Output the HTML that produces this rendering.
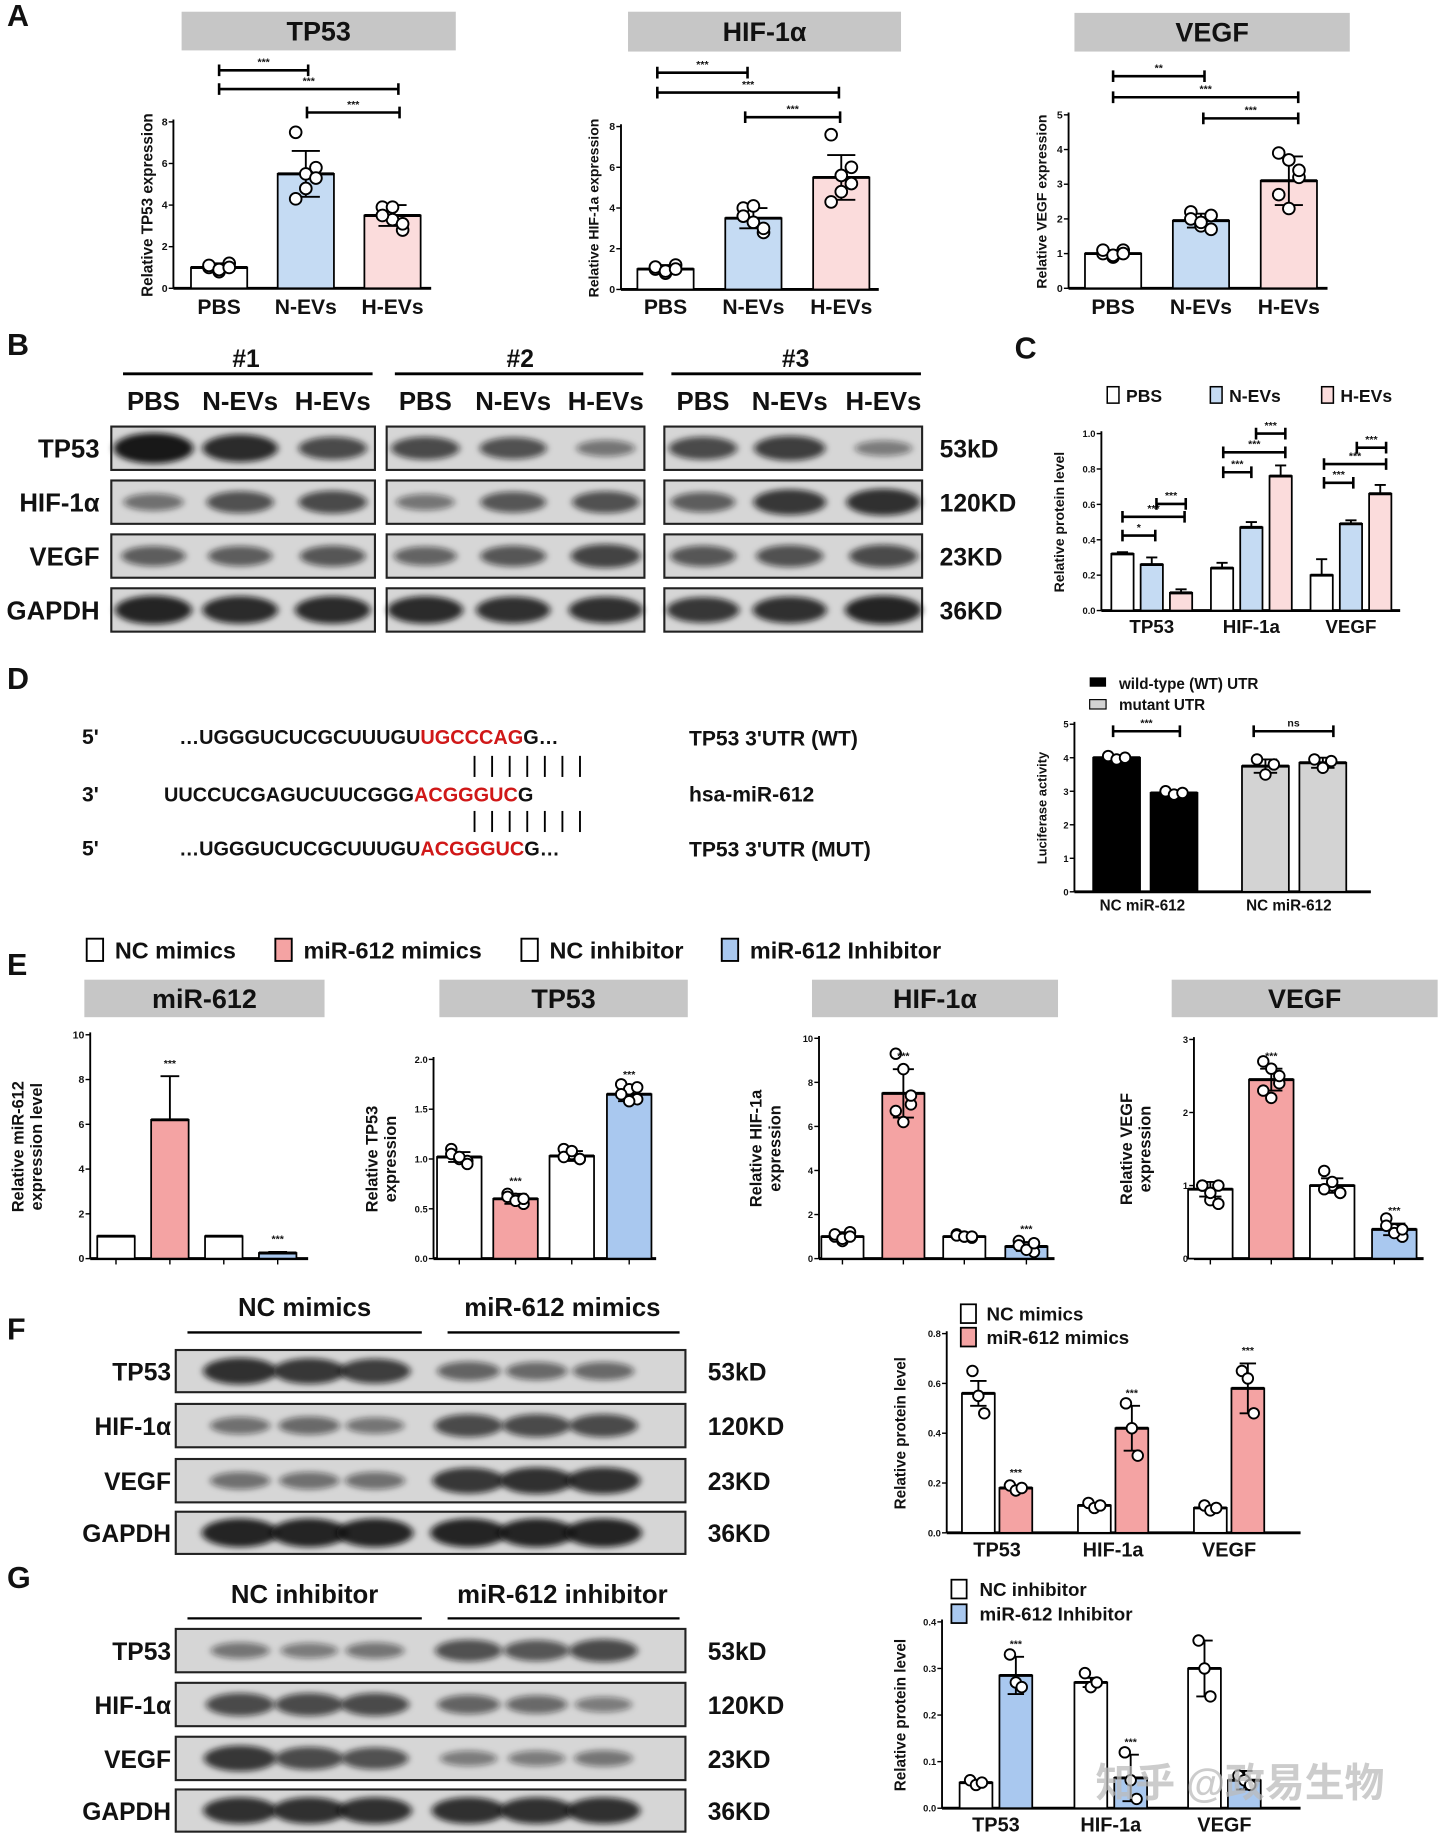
<!DOCTYPE html>
<html><head><meta charset="utf-8"><style>
html,body{margin:0;padding:0;background:#fff;}
svg{display:block;}
text{font-family:"Liberation Sans Narrow","Liberation Sans","Noto Sans CJK SC",sans-serif;font-weight:bold;fill:#111;}
</style></head><body>
<svg id="root" width="1440" height="1834" viewBox="0 0 1229 1565" preserveAspectRatio="none" xmlns="http://www.w3.org/2000/svg">
<defs>
<filter id="blur" x="-30%" y="-80%" width="160%" height="260%"><feGaussianBlur stdDeviation="3 2.5"/></filter>
</defs>
</svg>
<script>
// ===== Data =====
const groupsA = ["PBS","N-EVs","H-EVs"];
const tp53A = [1.0,5.5,3.5];   const tp53AErr=[0.2,1.1,0.5];
const tp53APts=[[1.0,0.8,1.2,1.1,0.9,1.0],[7.5,5.5,5.8,4.3,4.8,5.3],[3.9,3.3,2.8,3.5,3.9,3.1]];
const hifA = [1.0,3.5,5.5];    const hifAErr=[0.2,0.5,1.1];
const hifAPts=[[1.0,0.8,1.2,1.1,0.9,1.0],[4.0,3.3,2.8,3.6,4.1,3.0],[7.6,5.6,6.0,4.3,4.8,5.2]];
const vegfA = [1.0,1.95,3.1];  const vegfAErr=[0.1,0.2,0.7];
const vegfAPts=[[1.0,0.9,1.1,1.1,0.95,1.0],[2.2,1.8,1.7,2.0,1.9,2.1],[3.9,3.7,3.2,2.7,2.3,3.4]];
const ticksA8=[0,2,4,6,8]; const ticksA5=[0,1,2,3,4,5];

const groupsC=["TP53","HIF-1a","VEGF"];
const cPBS=[0.32,0.24,0.20]; const cPBSErr=[0.01,0.03,0.09];
const cN=[0.26,0.47,0.49];   const cNErr=[0.04,0.03,0.02];
const cH=[0.10,0.76,0.66];   const cHErr=[0.02,0.06,0.05];
const ticksC=[0,0.2,0.4,0.6,0.8,1.0];

const lucVals=[4.0,2.95,3.75,3.85]; const lucErr=[0.05,0.05,0.2,0.15];
const lucPts=[[4.05,3.95,4.0],[3.0,2.9,2.95],[3.95,3.5,3.8],[3.95,3.7,3.9]];
const ticksD=[0,1,2,3,4,5];

const eMir=[1.0,6.2,1.0,0.25]; const eMirErr=[0,1.95,0,0.05];
const eTp=[1.02,0.6,1.03,1.65]; const eTpErr=[0.05,0.05,0.05,0.07];
const eTpPts=[[1.1,1.0,0.98,1.05,1.02,0.95],[0.65,0.6,0.55,0.62,0.58,0.6],[1.1,1.05,1.0,1.02,1.08,1.0],[1.75,1.7,1.6,1.65,1.58,1.72]];
const eHif=[1.0,7.5,1.0,0.55]; const eHifErr=[0.2,1.1,0.1,0.2];
const eHifPts=[[1.0,0.8,1.2,1.1,0.9,1.0],[9.3,8.6,7.0,6.7,6.2,7.4],[1.1,1.0,0.95,1.05,1.0,1.0],[0.8,0.5,0.3,0.6,0.4,0.7]];
const eVegf=[0.95,2.45,1.0,0.4]; const eVegfErr=[0.1,0.15,0.1,0.08];
const eVegfPts=[[1.0,0.8,0.75,1.0,0.9,1.0],[2.7,2.6,2.4,2.3,2.2,2.5],[1.2,1.0,0.9,0.95,1.05,0.9],[0.55,0.4,0.3,0.45,0.35,0.4]];

const fNC=[0.56,0.11,0.10]; const fNCErr=[0.05,0.01,0.01];
const fMi=[0.18,0.42,0.58]; const fMiErr=[0.01,0.09,0.1];
const fNCPts=[[0.65,0.55,0.48],[0.12,0.1,0.11],[0.11,0.09,0.1]];
const fMiPts=[[0.19,0.17,0.18],[0.52,0.42,0.31],[0.65,0.62,0.48]];
const gNC=[0.055,0.27,0.30]; const gNCErr=[0.005,0.01,0.06];
const gIn=[0.285,0.065,0.06]; const gInErr=[0.04,0.05,0.02];
const gNCPts=[[0.06,0.05,0.055],[0.29,0.26,0.27],[0.36,0.3,0.24]];
const gInPts=[[0.33,0.27,0.26],[0.12,0.06,0.02],[0.07,0.06,0.05]];

// ===== helpers =====
const NS="http://www.w3.org/2000/svg";
const root=document.getElementById('root');
function mk(tag,attrs,parent){const e=document.createElementNS(NS,tag);for(const k in attrs)e.setAttribute(k,attrs[k]);(parent||root).appendChild(e);return e;}
function txt(x,y,s,size,opts,parent){const o=Object.assign({x:x,y:y,'font-size':size},opts||{});const t=mk('text',o,parent);t.textContent=s;return t;}
function g(name){const e=mk('g',{});return e;}

function panelLabel(s,x,y){const t=txt(x,y,s,26,{'font-family':'Liberation Sans'});}
function titleBox(s,x1,x2,y1,y2){const gg=g('title-'+s.toLowerCase());mk('rect',{x:x1,y:y1,width:x2-x1,height:y2-y1,fill:'#c6c6c6'},gg);txt((x1+x2)/2,(y1+y2)/2+8,s,23,{'text-anchor':'middle'},gg);}

function chart(o){
  const gg=g(o.name);
  const ys=v=>o.y0-v/o.max*(o.y0-o.yt);
  // axis
  const ax=mk('line',{x1:o.ax,y1:o.yt-2,x2:o.ax,y2:o.y0,stroke:'#000','stroke-width':1.6},gg);
  
  
  const bx=mk('line',{x1:o.ax,y1:o.y0,x2:o.xend,y2:o.y0,stroke:'#000','stroke-width':2.5},gg);
  
  
  o.ticks.forEach((t,i)=>{
    mk('line',{x1:o.ax-4,x2:o.ax,y1:ys(t),y2:ys(t),stroke:'#000','stroke-width':1.2},gg);
    const lab=txt(o.ax-5,ys(t)+3,o.tickLabels?o.tickLabels[i]:String(t),o.tickSize||9,{'text-anchor':'end'},gg);
    
    
  });
  if(o.ytitle){o.ytitle.forEach((line,i)=>{const tx=o.ytx+i*(o.ytSize+2);const t=txt(tx,(o.yt+o.y0)/2,line,o.ytSize,{'text-anchor':'middle',transform:`rotate(-90 ${tx} ${(o.yt+o.y0)/2})`,'font-family':'Liberation Sans'},gg);});}
  o.series.forEach((s,si)=>{
    s.vals.forEach((v,i)=>{
      const cx=o.centers[i]+(s.off||0);
      const r=mk('rect',{x:cx-o.bw/2,y:ys(v),width:o.bw,height:o.y0-ys(v),fill:s.fills[i],stroke:'#000','stroke-width':1.5},gg);
      
      
      const e=s.errs?s.errs[i]:0;
      if(e>0){
        const eb=mk('path',{d:`M${cx} ${ys(v-(s.oneSided?0:e))}V${ys(v+e)}M${cx-o.bw*0.25} ${ys(v+e)}H${cx+o.bw*0.25}`+(s.oneSided?'':`M${cx-o.bw*0.25} ${ys(v-e)}H${cx+o.bw*0.25}`),stroke:'#000','stroke-width':1.6,fill:'none'},gg);
        
        
      }
      mk('line',{x1:cx-o.bw/2,x2:cx+o.bw/2,y1:ys(v),y2:ys(v),stroke:'#000','stroke-width':2.5},gg);
      if(s.pts){s.pts[i].forEach((p,j)=>{
        const dx=((j%3)-1)*o.bw*0.18;
        const c=mk('circle',{cx:cx+dx,cy:ys(p),r:o.pr||5,fill:'#fff',stroke:'#000','stroke-width':1.6},gg);
        
        
      });}
      if(s.stars&&s.stars[i]){const st=txt(cx,ys(v+e)-8,s.stars[i],9,{'text-anchor':'middle'},gg);}
    });
  });
  if(o.xlabels){o.xlabels.forEach((l,i)=>{const t=txt(o.centers[i]+(o.xlOff||0),o.y0+o.xlDy,l,o.xlSize,{'text-anchor':'middle'},gg);});}
  if(o.xticks){o.centers.forEach(c=>{o.series.forEach(s=>{mk('line',{x1:c+(s.off||0),x2:c+(s.off||0),y1:o.y0,y2:o.y0+5,stroke:'#000','stroke-width':1.2},gg);});});}
  (o.brackets||[]).forEach(b=>{
    const br=mk('path',{d:`M${b[0]} ${b[2]-5}V${b[2]+5}M${b[0]} ${b[2]}H${b[1]}M${b[1]} ${b[2]-5}V${b[2]+5}`,stroke:'#000','stroke-width':2.2,fill:'none'},gg);
    
    
    txt((b[0]+b[1])/2,b[2]-4,b[3],b[4]||9,{'text-anchor':'middle'},gg);
  });
  return gg;
}

function blotRow(name,x,y,w,h,lanes,ints,parent){
  const gg=mk('g',{},parent);
  mk('rect',{x:x,y:y,width:w,height:h,fill:'#d6d6d6',stroke:'#222','stroke-width':1.8},gg);
  lanes.forEach((cx,i)=>{const a=ints[i];
    mk('ellipse',{cx:cx,cy:y+h/2,rx:22+a*12,ry:5+a*8,fill:'#111','fill-opacity':0.35+a*0.6,filter:'url(#blur)'},gg);});
}

// ===== Panel A =====
panelLabel('A',6,22);
titleBox('TP53',155,389,10,43);titleBox('HIF-1α',536,769,10,44);titleBox('VEGF',917,1152,11,44);
chart({name:'chart-a-tp53',ax:148,y0:246,yt:104,max:8,ticks:ticksA8,centers:[187,261,335],bw:48,xend:368,
  ytitle:['Relative TP53 expression'],ytx:130,ytSize:13,
  series:[{key:'tp53',vals:tp53A,errs:tp53AErr,pts:tp53APts,fills:['#fff','#c5dbf3','#fbdcdc']}],
  xlabels:groupsA,xlDy:22,xlSize:18,brackets:[[187,263,60,'***'],[187,340,76,'***'],[262,341,96,'***']]});
chart({name:'chart-a-hif',ax:530,y0:247,yt:108,max:8,ticks:ticksA8,centers:[568,643,718],bw:48,xend:750,
  ytitle:['Relative HIF-1a  expression'],ytx:511,ytSize:12,
  series:[{key:'hif',vals:hifA,errs:hifAErr,pts:hifAPts,fills:['#fff','#c5dbf3','#fbdcdc']}],
  xlabels:groupsA,xlDy:21,xlSize:18,brackets:[[561,638,62,'***'],[561,716,79,'***'],[636,717,100,'***']]});
chart({name:'chart-a-vegf',ax:912,y0:246,yt:98,max:5,ticks:ticksA5,centers:[950,1025,1100],bw:48,xend:1133,
  ytitle:['Relative VEGF expression'],ytx:893,ytSize:12,
  series:[{key:'vegf',vals:vegfA,errs:vegfAErr,pts:vegfAPts,fills:['#fff','#c5dbf3','#fbdcdc']}],
  xlabels:groupsA,xlDy:22,xlSize:18,brackets:[[950,1028,65,'**'],[950,1108,83,'***'],[1027,1108,101,'***']]});

// ===== Panel B =====
panelLabel('B',6,303);
(function(){
  const gb=g('western-blot-b');
  [[210,105,318,'#1'],[444,337,549,'#2'],[679,573,786,'#3']].forEach(a=>{txt(a[0],313,a[3],21,{'text-anchor':'middle'},gb);mk('line',{x1:a[1],x2:a[2],y1:319,y2:319,stroke:'#000','stroke-width':2.5},gb);});
  const labs=[[131,205,284],[363,438,517],[600,674,754]];
  labs.forEach(L=>L.forEach((x,i)=>txt(x,350,['PBS','N-EVs','H-EVs'][i],22,{'text-anchor':'middle'},gb)));
  const boxes=[[95,225],[330,220],[567,220]];
  const rows=[['TP53',364,37,'53kD'],['HIF-1α',410,37,'120KD'],['VEGF',456,37,'23KD'],['GAPDH',502,37,'36KD']];
  const ints={TP53:[[1,.85,.6],[.6,.55,.25],[.6,.7,.2]],'HIF-1α':[[.3,.55,.6],[.25,.5,.55],[.45,.75,.8]],VEGF:[[.45,.45,.5],[.4,.5,.65],[.5,.55,.6]],GAPDH:[[.9,.85,.85],[.85,.8,.8],[.75,.8,.9]]};
  rows.forEach(r=>{
    txt(85,r[1]+r[2]/2+8,r[0],22,{'text-anchor':'end'},gb);
    txt(802,r[1]+r[2]/2+8,r[3],21,{},gb);
    boxes.forEach((b,bi)=>blotRow('blot-'+r[0].toLowerCase()+'-'+(bi+1),b[0],r[1],b[1],r[2],labs[bi],ints[r[0]][bi],gb));
  });
})();

// ===== Panel C =====
panelLabel('C',866,306);
(function(){const gl=g('legend-c');[[945,'PBS','#fff'],[1033,'N-EVs','#c5dbf3'],[1128,'H-EVs','#fbdcdc']].forEach(l=>{mk('rect',{x:l[0],y:330,width:10,height:14,fill:l[2],stroke:'#000','stroke-width':1.3},gl);txt(l[0]+16,343,l[1],15,{},gl);});})();
chart({name:'chart-c-protein',ax:940,y0:521,yt:370,max:1.0,ticks:ticksC,tickLabels:['0.0','0.2','0.4','0.6','0.8','1.0'],tickSize:8,
  centers:[983,1068,1153],bw:19,xend:1195,ytitle:['Relative protein level'],ytx:908,ytSize:12,
  series:[{key:'pbs',off:-25,vals:cPBS,errs:cPBSErr,fills:['#fff','#fff','#fff'],oneSided:true},
          {key:'nevs',off:0,vals:cN,errs:cNErr,fills:['#c5dbf3','#c5dbf3','#c5dbf3'],oneSided:true},
          {key:'hevs',off:25,vals:cH,errs:cHErr,fills:['#fbdcdc','#fbdcdc','#fbdcdc'],oneSided:true}],
  xlabels:groupsC,xlDy:19,xlSize:16,
  brackets:[[958,986,457,'*'],[958,1011,441,'***'],[987,1012,430,'***'],[1044,1068,403,'***'],[1044,1097,386,'***'],[1072,1097,370,'***'],[1130,1155,412,'***'],[1130,1183,396,'***'],[1158,1183,382,'***']]});

// ===== Panel D =====
panelLabel('D',6,588);
(function(){const gs=g('sequence-alignment');
  const fs={'font-family':'Liberation Sans'};
  txt(70,635,"5'",18,fs,gs);txt(70,684,"3'",18,fs,gs);txt(70,730,"5'",18,fs,gs);
  let t=txt(153,635,'',17,fs,gs);t.innerHTML='…UGGGUCUCGCUUUGU<tspan fill="#d01818" style="fill:#d01818">UGCCCAG</tspan>G…';
  t=txt(140,684,'',17,fs,gs);t.innerHTML='UUCCUCGAGUCUUCGGG<tspan style="fill:#d01818">ACGGGUC</tspan>G';
  t=txt(153,730,'',17,fs,gs);t.innerHTML='…UGGGUCUCGCUUUGU<tspan style="fill:#d01818">ACGGGUC</tspan>G…';
  for(let i=0;i<7;i++){const x=405+i*15;mk('line',{x1:x,x2:x,y1:645,y2:663,stroke:'#000','stroke-width':1.6},gs);mk('line',{x1:x,x2:x,y1:692,y2:710,stroke:'#000','stroke-width':1.6},gs);}
  txt(588,636,"TP53  3'UTR  (WT)",18,fs,gs);txt(588,684,'hsa-miR-612',18,fs,gs);txt(588,731,"TP53  3'UTR  (MUT)",18,fs,gs);
})();
(function(){const gl=g('legend-d');mk('rect',{x:930,y:578,width:14,height:8,fill:'#000'},gl);txt(955,588,'wild-type (WT) UTR',13,{},gl);mk('rect',{x:930,y:597,width:14,height:8,fill:'#d3d3d3',stroke:'#000'},gl);txt(955,606,'mutant UTR',13,{},gl);})();
chart({name:'chart-d-luciferase',ax:917,y0:761,yt:618,max:5,ticks:ticksD,tickSize:8,centers:[953,1002,1080,1129],bw:40,xend:1170,
  ytitle:['Luciferase activity'],ytx:893,ytSize:11,
  series:[{key:'luc',vals:lucVals,errs:lucErr,pts:lucPts,fills:['#000','#000','#d3d3d3','#d3d3d3']}],pr:4.5,
  brackets:[[950,1007,624,'***'],[1070,1138,624,'ns']]});
txt(975,777,'NC miR-612',13,{'text-anchor':'middle'});txt(1100,777,'NC miR-612',13,{'text-anchor':'middle'});

// ===== Panel E =====
(function(){const gl=g('legend-e');[[74,'NC mimics','#fff'],[235,'miR-612 mimics','#f4a3a3'],[445,'NC inhibitor','#fff'],[616,'miR-612 Inhibitor','#a9c8ef']].forEach(l=>{mk('rect',{x:l[0],y:801,width:14,height:19,fill:l[2],stroke:'#000','stroke-width':1.6},gl);txt(l[0]+24,818,l[1],20,{'font-family':'Liberation Sans'},gl);});})();
panelLabel('E',6,832);
titleBox('miR-612',72,277,836,868);titleBox('TP53',375,587,836,868);titleBox('HIF-1α',693,903,836,868);titleBox('VEGF',1000,1227,836,868);
const eFills=['#fff','#f4a3a3','#fff','#a9c8ef'];
chart({name:'chart-e-mir612',ax:77,y0:1074,yt:883,max:10,ticks:[0,2,4,6,8,10],centers:[99,145,191,237],bw:32,xend:263,xticks:true,
  ytitle:['Relative miR-612','expression level'],ytx:20,ytSize:14,
  series:[{key:'mir',vals:eMir,errs:eMirErr,fills:eFills,oneSided:true,stars:['','***','','***']}]});
chart({name:'chart-e-tp53',ax:370,y0:1074,yt:904,max:2.0,ticks:[0,0.5,1,1.5,2],tickLabels:['0.0','0.5','1.0','1.5','2.0'],tickSize:8,centers:[392,440,488,537],bw:38,xend:560,xticks:true,
  ytitle:['Relative TP53','expression'],ytx:322,ytSize:14,pr:4.5,
  series:[{key:'tp',vals:eTp,errs:eTpErr,pts:eTpPts,fills:eFills,stars:['','***','','***']}]});
chart({name:'chart-e-hif',ax:699,y0:1074,yt:886,max:10,ticks:[0,2,4,6,8,10],tickSize:8,centers:[719,771,823,876],bw:36,xend:900,xticks:true,
  ytitle:['Relative HIF-1a','expression'],ytx:650,ytSize:14,pr:4.5,
  series:[{key:'hif',vals:eHif,errs:eHifErr,pts:eHifPts,fills:eFills,stars:['','***','','***']}]});
chart({name:'chart-e-vegf',ax:1019,y0:1074,yt:887,max:3,ticks:[0,1,2,3],tickSize:8,centers:[1033,1085,1137,1190],bw:38,xend:1215,xticks:true,
  ytitle:['Relative VEGF','expression'],ytx:966,ytSize:14,pr:4.5,
  series:[{key:'vegf',vals:eVegf,errs:eVegfErr,pts:eVegfPts,fills:eFills,stars:['','***','','***']}]});

// ===== Panels F / G blots =====
function blotFG(name,hdr1,hdr2,hy,ly,rows,ints){
  const gb=g(name);
  txt(260,hy,hdr1,22,{'text-anchor':'middle'},gb);txt(480,hy,hdr2,22,{'text-anchor':'middle'},gb);
  mk('line',{x1:160,x2:360,y1:ly,y2:ly,stroke:'#000','stroke-width':2},gb);mk('line',{x1:382,x2:580,y1:ly,y2:ly,stroke:'#000','stroke-width':2},gb);
  const lanes=[205,264,320,400,458,515];
  rows.forEach((r,i)=>{txt(146,r[1]+r[2]/2+8,r[0],21,{'text-anchor':'end'},gb);txt(604,r[1]+r[2]/2+8,r[3],21,{},gb);
    blotRow('blot-'+r[0].toLowerCase(),150,r[1],435,r[2],lanes,ints[i],gb);});
}
panelLabel('F',6,1143);
blotFG('western-blot-f','NC  mimics','miR-612  mimics',1123,1137,
  [['TP53',1152,36,'53kD'],['HIF-1α',1198,37,'120KD'],['VEGF',1245,37,'23KD'],['GAPDH',1290,36,'36KD']],
  [[.8,.75,.7,.4,.35,.35],[.3,.35,.25,.6,.6,.6],[.3,.3,.3,.75,.8,.8],[.9,.9,.9,.9,.9,.9]]);
panelLabel('G',6,1355);
blotFG('western-blot-g','NC  inhibitor','miR-612  inhibitor',1368,1381,
  [['TP53',1390,37,'53kD'],['HIF-1α',1436,37,'120KD'],['VEGF',1482,37,'23KD'],['GAPDH',1527,36,'36KD']],
  [[.25,.2,.25,.55,.5,.6],[.6,.6,.6,.4,.35,.2],[.75,.6,.55,.2,.2,.25],[.8,.8,.8,.8,.8,.8]]);

// ===== F / G charts =====
(function(){const gl=g('legend-f');mk('rect',{x:820,y:1113,width:13,height:16,fill:'#fff',stroke:'#000','stroke-width':1.5},gl);txt(842,1127,'NC mimics',16,{'font-family':'Liberation Sans'},gl);mk('rect',{x:820,y:1133,width:13,height:16,fill:'#f4a3a3',stroke:'#000','stroke-width':1.5},gl);txt(842,1147,'miR-612 mimics',16,{'font-family':'Liberation Sans'},gl);})();
chart({name:'chart-f-protein',ax:808,y0:1308,yt:1138,max:0.8,ticks:[0,0.2,0.4,0.6,0.8],tickLabels:['0.0','0.2','0.4','0.6','0.8'],tickSize:8,centers:[851,950,1049],bw:28,xend:1110,
  ytitle:['Relative protein level'],ytx:773,ytSize:13,pr:4.5,
  series:[{key:'nc',off:-16,vals:fNC,errs:fNCErr,pts:fNCPts,fills:['#fff','#fff','#fff']},
          {key:'mimic',off:16,vals:fMi,errs:fMiErr,pts:fMiPts,fills:['#f4a3a3','#f4a3a3','#f4a3a3'],stars:['***','***','***']}],
  xlabels:groupsC,xlDy:20,xlSize:17});
(function(){const gl=g('legend-g');mk('rect',{x:812,y:1348,width:13,height:16,fill:'#fff',stroke:'#000','stroke-width':1.5},gl);txt(836,1362,'NC inhibitor',16,{'font-family':'Liberation Sans'},gl);mk('rect',{x:812,y:1369,width:13,height:16,fill:'#a9c8ef',stroke:'#000','stroke-width':1.5},gl);txt(836,1383,'miR-612 Inhibitor',16,{'font-family':'Liberation Sans'},gl);})();
chart({name:'chart-g-protein',ax:804,y0:1543,yt:1384,max:0.4,ticks:[0,0.1,0.2,0.3,0.4],tickLabels:['0.0','0.1','0.2','0.3','0.4'],tickSize:8,centers:[850,948,1045],bw:28,xend:1110,
  ytitle:['Relative protein level'],ytx:773,ytSize:13,pr:4.5,
  series:[{key:'nc',off:-17,vals:gNC,errs:gNCErr,pts:gNCPts,fills:['#fff','#fff','#fff']},
          {key:'inhib',off:17,vals:gIn,errs:gInErr,pts:gInPts,fills:['#a9c8ef','#a9c8ef','#a9c8ef'],stars:['***','***','']}],
  xlabels:groupsC,xlDy:20,xlSize:17});
(function(){const w=txt(935,1533,'知乎 @政易生物',34,{'font-family':'"Noto Sans CJK SC",sans-serif','font-weight':'normal',style:'fill:#bbb;fill-opacity:0.75'});})();
</script>
</body></html>
